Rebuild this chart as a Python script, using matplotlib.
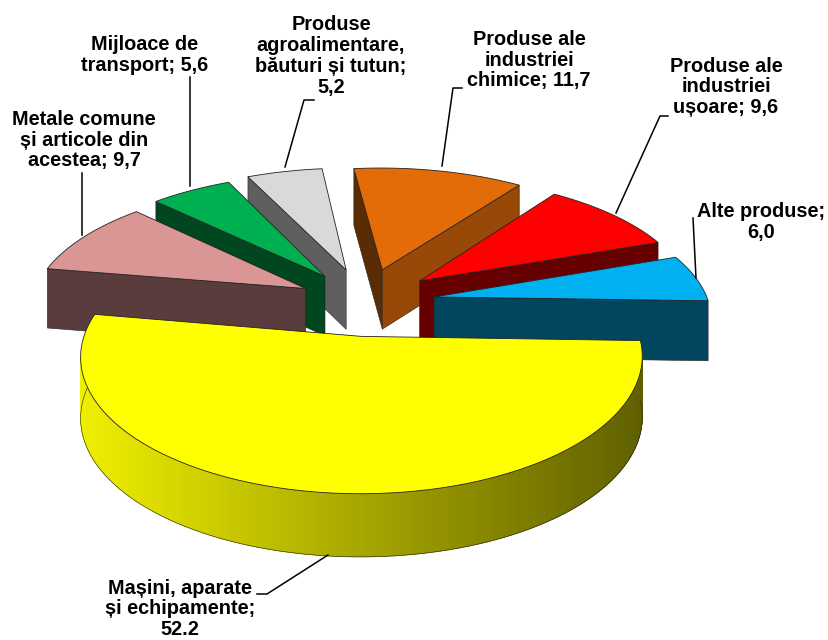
import numpy as np
import matplotlib
matplotlib.use("Agg")
import matplotlib.pyplot as plt

# ---- data ----
categories = ["Produse ale\nindustriei\nchimice", "Produse ale\nindustriei\nușoare",
              "Alte produse;\n", "Mașini, aparate\nși echipamente;\n",
              "Metale comune\nși articole din\nacestea", "Mijloace de\ntransport",
              "Produse\nagroalimentare,\nbăuturi și tutun;\n"]
values = [11.7, 9.6, 6.0, 52.2, 9.7, 5.6, 5.2]
value_text = ["11,7", "9,6", "6,0", "52.2", "9,7", "5,6", "5,2"]
top_colors = ["#E36C09", "#FF0000", "#00B0F0", "#FFFF00", "#D99694", "#00B050", "#D9D9D9"]
side_colors = ["#984807", "#660000", "#00465F", "#808000", "#5A3C3C", "#00461F", "#5F5F5F"]
face_colors = ["#5A2C04", "#660000", "#00465F", "#808000", "#5A3C3C", "#00461F", "#5F5F5F"]
label_xy = [(529, 60), (726, 87), (761, 222), (180, 609), (84, 140), (145, 55), (331, 56)]
leaders = [[(462, 88), (453, 88), (442, 166)],
           [(668, 116), (660, 116), (616, 213)],
           [(693, 218), (696, 278)],
           [(257, 594), (267, 594), (328, 555)],
           [(82, 173), (82, 235)],
           [(190, 77), (190, 186)],
           [(314, 100), (304, 100), (285, 167)]]
# small per-slice placement corrections (pixels, x-radius factor)
nudge_x = [0, -1, -1, 4, 3, 0, 0]
nudge_y = [-2, -2, 0, 1, 1, 0, -2]
x_scale = [1, 1, 1, 0.975, 1, 1, 1]

# ---- projection model of the 3D pie ----
START = -6.5
EXPLODE = 0.26
CX, CY = 365, 302
D, FX, FY = 7.0, 1920.0, 870.0


def proj(X, Y, Z=0.0):
    w = D + Y
    return CX + FX * X / w, CY - FY * Y / w + Z * (60 - 2.5 * Y)


def shade(rgb_a, rgb_b, t):
    a, b = np.array(matplotlib.colors.to_rgb(rgb_a)), np.array(matplotlib.colors.to_rgb(rgb_b))
    return tuple(a + (b - a) * t)


def area(xs, ys):
    xs, ys = np.asarray(xs), np.asarray(ys)
    return 0.5 * np.sum(xs * np.roll(ys, -1) - np.roll(xs, -1) * ys)


fig = plt.figure(figsize=(8.29, 6.40), dpi=100)
ax = fig.add_axes([0, 0, 1, 1])
ax.set_xlim(0, 829)
ax.set_ylim(640, 0)
ax.axis("off")

total = sum(values)
spans = np.array(values) / total * 360
starts = START + np.concatenate([[0], np.cumsum(spans)[:-1]])
mids = starts + spans / 2
order = np.argsort(-np.cos(np.radians(mids)))

edge = "#222222"
for rank, i in enumerate(order):
    th = np.radians(np.linspace(starts[i], starts[i] + spans[i], 240))
    m = np.radians(mids[i])
    ox, oy = EXPLODE * np.sin(m), EXPLODE * np.cos(m)
    X, Y = ox + x_scale[i] * np.sin(th), oy + np.cos(th)
    tx, ty = proj(X, Y)
    bx, by = proj(X, Y, 1.0)
    ax0, ay0 = proj(ox, oy)
    bx0, by0 = proj(ox, oy, 1.0)
    tx, bx, ax0, bx0 = tx + nudge_x[i], bx + nudge_x[i], ax0 + nudge_x[i], bx0 + nudge_x[i]
    ty, by, ay0, by0 = ty + nudge_y[i], by + nudge_y[i], ay0 + nudge_y[i], by0 + nudge_y[i]
    z = 3 * rank

    # radial cut faces, only those turned towards the viewer
    fx0, fy0 = [ax0, tx[0], bx[0], bx0], [ay0, ty[0], by[0], by0]
    if area(fx0, fy0) < 0:
        ax.fill(fx0, fy0, fc=face_colors[i], ec=edge, lw=0.4, zorder=z)
    fx1, fy1 = [ax0, tx[-1], bx[-1], bx0], [ay0, ty[-1], by[-1], by0]
    if area(fx1, fy1) > 0:
        ax.fill(fx1, fy1, fc=side_colors[i], ec=edge, lw=0.4, zorder=z)
    # outer rim, one quad per step, culled the same way
    is_grad = values[i] == max(values)
    for k in range(len(th) - 1):
        qx, qy = [tx[k], tx[k + 1], bx[k + 1], bx[k]], [ty[k], ty[k + 1], by[k + 1], by[k]]
        if area(qx, qy) >= 0:
            continue
        if is_grad:
            t = (tx[k] - tx.min()) / (tx.max() - tx.min())
            col = shade("#EFEF00", "#5F5F00", t)
        else:
            col = side_colors[i]
        ax.fill(qx, qy, color=col, lw=0.6, zorder=z + 1)
    if is_grad:
        ax.plot(bx, by, color=edge, lw=0.4, zorder=z + 1)
    # top face
    ax.fill(np.r_[ax0, tx], np.r_[ay0, ty], fc=top_colors[i], ec=edge, lw=0.6, zorder=z + 2)

for i in range(len(values)):
    if categories[i].endswith("\n"):
        txt = categories[i] + value_text[i]
    else:
        txt = categories[i] + "; " + value_text[i]
    ax.text(*label_xy[i], txt, ha="center", va="center", family="Liberation Sans",
            weight="bold", fontsize=14.3, linespacing=1.13, color="black", zorder=50)
    xs, ys = zip(*leaders[i])
    ax.plot(xs, ys, color="black", lw=1.1, zorder=40)

fig.savefig("out.png", dpi=100)
